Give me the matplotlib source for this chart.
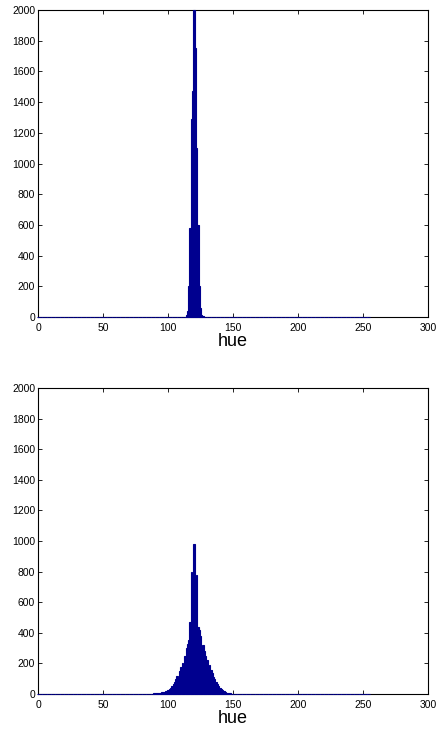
import numpy as np
import matplotlib
matplotlib.use('Agg')
import matplotlib.pyplot as plt

plt.rcParams['font.family'] = ['Liberation Sans', 'DejaVu Sans']

# hue bins 0..255, counts (all other bins are zero)
hue_bins = np.arange(256)

top_hues = [114, 115, 116, 117, 118, 119, 120, 121, 122, 123, 124, 125, 126, 127]
top_counts = [10, 40, 200, 580, 1290, 1470, 2000, 1750, 1100, 600, 200, 60, 15, 5]

bot_hues = list(range(85, 161))
bot_counts = [2, 2, 3, 3, 4, 5, 5, 6, 7, 8,
              10, 12, 15, 18, 22, 28, 35, 42, 52, 65,
              80, 100, 120, 0, 150, 175, 205, 0, 250, 300,
              330, 350, 470, 800, 0, 980, 0, 780, 440, 420,
              380, 0, 320, 280, 250, 220, 0, 190, 160, 135,
              110, 95, 80, 65, 55, 42, 35, 25, 18, 12,
              8, 6, 5, 4, 3, 3, 2, 2, 2, 1,
              1, 1, 1, 1, 1, 1]


def full_hist(hues, counts):
    h = np.zeros(256)
    h[hues] = counts
    return h


fig = plt.figure(figsize=(4.36, 7.31), dpi=100)
ax1 = fig.add_axes([0.0872, 0.5663, 0.8945, 0.42])
ax2 = fig.add_axes([0.0872, 0.0506, 0.8945, 0.4186])

for ax, hues, counts in [(ax1, top_hues, top_counts), (ax2, bot_hues, bot_counts)]:
    bars = ax.bar(hue_bins, full_hist(hues, counts), width=1.0, color='#00008f',
                  edgecolor='#00008f', linewidth=0.8, zorder=3)
    for b in bars:
        b.set_clip_on(False)
    ax.set_xlim(0, 300)
    ax.set_ylim(0, 2000)
    ax.set_xticks(range(0, 301, 50))
    ax.set_yticks(range(0, 2001, 200))
    ax.tick_params(direction='in', top=True, right=True, length=3, width=0.6,
                   labelsize=7.5)
    ax.tick_params(axis='x', pad=4)
    ax.tick_params(axis='y', pad=2)
    for s in ax.spines.values():
        s.set_linewidth(0.8)
    ax.set_xlabel('hue', fontsize=13, labelpad=0)

fig.savefig('out.png', dpi=100)
